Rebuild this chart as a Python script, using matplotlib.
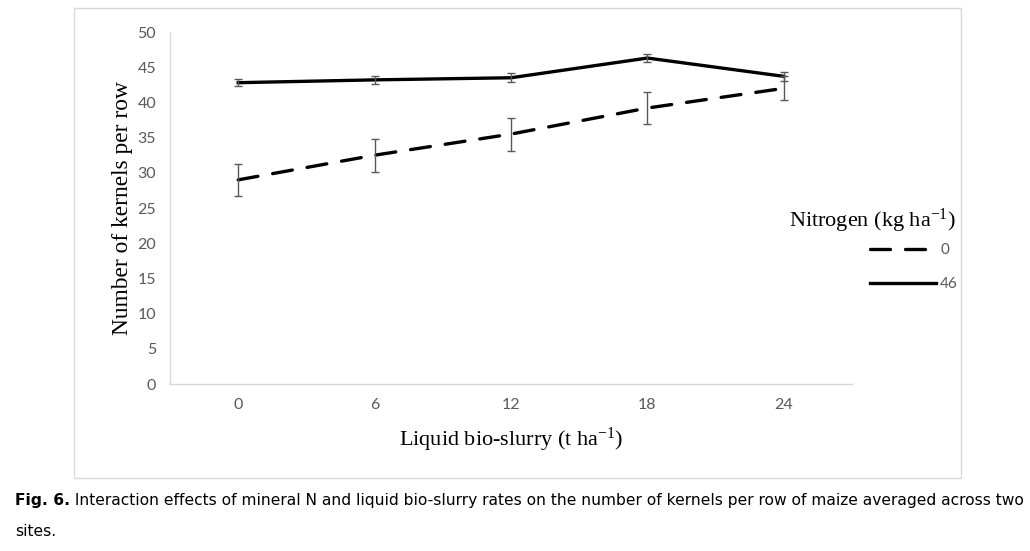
import numpy as np
import matplotlib
matplotlib.use('Agg')
import matplotlib.pyplot as plt
from matplotlib.patches import Rectangle

# data
slurry = ['0', '6', '12', '18', '24']
n0_mean = [29.0, 32.5, 35.5, 39.2, 42.0]
n0_err = [2.3, 2.35, 2.35, 2.3, 1.7]
n46_mean = [42.8, 43.2, 43.5, 46.3, 43.7]
n46_err = [0.5, 0.6, 0.65, 0.6, 0.6]
yticks = [0, 5, 10, 15, 20, 25, 30, 35, 40, 45, 50]

W, H = 1030, 551
plt.rcParams['mathtext.default'] = 'regular'
serif = 'Liberation Serif'
tickfont = 'Lato'
grey = '#595959'

fig = plt.figure(figsize=(W / 100, H / 100), dpi=100)

# light grey frame round the chart
fig.patches.append(Rectangle((74 / W, 1 - 478 / H), (961 - 74) / W, (478 - 8) / H,
                             transform=fig.transFigure, fill=False,
                             edgecolor='#d9d9d9', linewidth=1.0))

ax = fig.add_axes([170 / W, 1 - 384 / H, (852 - 170) / W, (384 - 32) / H])
x = np.arange(len(slurry))

l0, = ax.plot(x, n0_mean, color='black', linewidth=2.4, linestyle=(0, (6, 4.5)),
              dash_capstyle='round', label='0')
l46, = ax.plot(x, n46_mean, color='black', linewidth=2.4, label='46')
ax.errorbar(x, n0_mean, yerr=n0_err, fmt='none', ecolor=grey, elinewidth=1.0,
            capsize=3, capthick=1.0, zorder=3)
ax.errorbar(x, n46_mean, yerr=n46_err, fmt='none', ecolor=grey, elinewidth=1.0,
            capsize=3, capthick=1.0, zorder=3)

ax.set_xlim(-0.5, len(slurry) - 0.5)
ax.set_ylim(0, 50)
ax.set_xticks(x)
ax.set_xticklabels(slurry)
ax.set_yticks(yticks)
ax.tick_params(length=0, labelsize=11.5, labelcolor=grey, pad=10)
for lab in ax.get_xticklabels() + ax.get_yticklabels():
    lab.set_family(tickfont)

for s in ['top', 'right']:
    ax.spines[s].set_visible(False)
for s in ['left', 'bottom']:
    ax.spines[s].set_color('#d9d9d9')
    ax.spines[s].set_linewidth(1.0)

ax.set_ylabel('Number of kernels per row', family=serif, fontsize=16.8)
ax.yaxis.set_label_coords((133 - 170) / 682, 0.5)
ax.set_xlabel('Liquid bio-slurry (t ha$^{-1}$)', family=serif, fontsize=16)
ax.xaxis.set_label_coords(0.5, (384 - 426) / 352)

# legend: title as text, entries as a legend below it
fig.text(872 / W, 1 - 221 / H, 'Nitrogen (kg ha$^{-1}$)', family=serif, fontsize=16,
         ha='center', va='center')
leg = fig.legend(handles=[l0, l46], loc='upper left',
                 bbox_to_anchor=(870 / W, 1 - 243 / H), borderaxespad=0, borderpad=0,
                 frameon=False, handlelength=4.3, handletextpad=0.3,
                 labelspacing=1.3, prop={'family': tickfont, 'size': 11})
for t in leg.get_texts():
    t.set_color(grey)

# caption below the frame
cap1 = fig.text(15 / W, 1 - 505 / H, 'Fig. 6.', family='DejaVu Sans', fontsize=11.15,
                fontweight='bold', color='black', va='baseline', ha='left')
ax.annotate(' Interaction effects of mineral N and liquid bio-slurry rates on the number of '
            'kernels per row of maize averaged across two',
            xy=(1, 0), xycoords=cap1, va='bottom', ha='left', family='DejaVu Sans',
            fontsize=11.15, color='black', annotation_clip=False)
fig.text(15 / W, 1 - 536 / H, 'sites.', family='DejaVu Sans', fontsize=11.15,
         color='black', va='baseline', ha='left')

fig.savefig('out.png', dpi=100)
